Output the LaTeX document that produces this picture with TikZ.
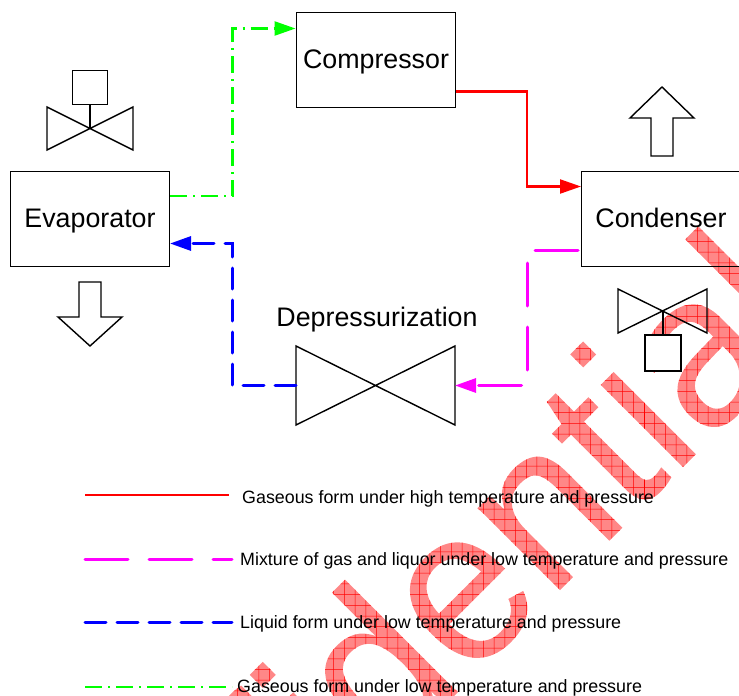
\documentclass[tikz,border=0pt]{standalone}
\usepackage{fontspec}
\setmainfont{Liberation Sans}
\newfontfamily\stampfont[FakeStretch=0.95]{Liberation Sans}
\usetikzlibrary{arrows.meta}

\definecolor{wmpink}{RGB}{255,135,135}
\definecolor{mixcolor}{RGB}{255,0,255}
\definecolor{coldcolor}{RGB}{0,255,0}

\tikzset{
  unit/.style={draw,line width=1pt,inner sep=0pt,minimum width=159pt,minimum height=95pt},
  unittext/.style={anchor=base,inner sep=0pt,font=\fontsize{26.8}{30}\selectfont},
  valve/.style={draw,line width=1.4pt},
  legendtext/.style={anchor=base west,inner sep=0pt,font=\fontsize{17.85}{20}\selectfont},
  hotline/.style={red,line width=2.2pt},
  mixline/.style={mixcolor,line width=3pt,line cap=round,dash pattern=on 43pt off 21pt},
  liquidline/.style={blue,line width=3pt,line cap=round,dash pattern=on 21pt off 11pt},
  coldline/.style={coldcolor,line width=2.4pt,dash pattern=on 17pt off 6pt on 2pt off 6pt},
  flow/.style={-{Triangle[length=21pt,width=14pt]}}
}

% hatched lettering: the word becomes the clip for the fill and the grid
\newcommand{\hatchword}[1]{%
  \special{pdf:code q 7 Tr}%
  \makebox[0pt][l]{\fontsize{220}{220}\stampfont #1}%
  \special{pdf:code 0 Tr}%
  \begin{tikzpicture}[overlay,rotate=-45,x=1pt,y=1pt]
    \fill[wmpink] (-100,-100) rectangle (1000,1400);
    \foreach \k in {0,...,100} {
      \draw[red,line width=0.5pt] (-102.7+10.7*\k,-100) -- +(0,1500);
    }
    \foreach \k in {0,...,140} {
      \draw[red,line width=0.5pt] (-100,-105.7+10.7*\k) -- +(1100,0);
    }
  \end{tikzpicture}%
  \special{pdf:code Q}}

\begin{document}
\begin{tikzpicture}[x=1pt,y=-1pt]
\useasboundingbox (0,0) rectangle (739,696);

% watermark
\node[anchor=base west,inner sep=0pt,rotate=45] (stamp) at (40,1110) {\hatchword{Confidential}};

% units
\node[unit] (evaporator) at (90,218.5) {};
\node[unit] (compressor) at (375.5,59.5) {};
\node[unit] (condenser) at (661,218.5) {};
\node[unittext] (evaptext) at (90,227) {Evaporator};
\node[unittext] (comptext) at (376,68.5) {Compressor};
\node[unittext] (condtext) at (661,227) {Condenser};
\node[unittext] (depresslabel) at (377,326.5) {Depressurization};

% expansion valve
\node[coordinate] (dvw) at (296,385.5) {};
\node[coordinate] (dve) at (455,385.5) {};
\draw[valve] (296,346) -- (455,425) -- (455,346) -- (296,425) -- cycle;

% small valves
\draw[valve] (47,107) -- (133,150) -- (133,107) -- (47,150) -- cycle;
\node[valve,fill=white,inner sep=0pt,minimum size=34.5pt] (evapsq) at (90,87.5) {};
\draw[valve] (evapsq.south) -- (90,128.5);
\draw[valve] (618,289) -- (707,333) -- (707,289) -- (618,333) -- cycle;
\node[valve,fill=white,inner sep=0pt,minimum size=36pt] (condsq) at (663,353) {};
\draw[valve] (condsq.north) -- (663,311);

% air arrows
\draw[valve] (79,282) -- (101,282) -- (101,317) -- (122,317) -- (90,346) -- (58,317) -- (79,317) -- cycle;
\draw[valve] (651,156) -- (673,156) -- (673,118) -- (694,118) -- (662,87) -- (630,118) -- (651,118) -- cycle;

% flows
\draw[hotline,flow] ([yshift=-32pt]compressor.east) -- (527,91.5) -- (527,186.5) -- ([yshift=32pt]condenser.west);
\draw[mixline,flow] (578,250) -- (527,250) -- (527,385.5) -- (dve);
\draw[liquidline,flow] (dvw) -- (232.5,385.5) -- (232.5,243.5) -- ([yshift=-25pt]evaporator.east);
\draw[coldline,flow] ([yshift=22.5pt]evaporator.east) -- (232.5,196) -- (232.5,28.5) -- ([yshift=31pt]compressor.west);

% legend
\node[legendtext] (hottext) at (242,503.3) {Gaseous form under high temperature and pressure};
\node[legendtext] (mixtext) at (240,565) {Mixture of gas and liquor under low temperature and pressure};
\node[legendtext] (liquidtext) at (240,628.3) {Liquid form under low temperature and pressure};
\node[legendtext] (coldtext) at (237,692.3) {Gaseous form under low temperature and pressure};
\node[coordinate] (k1) at (85,495) {};
\node[coordinate] (k2) at (85,559) {};
\node[coordinate] (k3) at (85,622) {};
\node[coordinate] (k4) at (85,687) {};
\draw[hotline,line width=2pt] (k1) -- +(144,0);
\draw[mixline] (k2) -- +(147,0);
\draw[liquidline] (k3) -- +(147,0);
\draw[coldline] (k4) -- +(147,0);
\end{tikzpicture}
\end{document}
